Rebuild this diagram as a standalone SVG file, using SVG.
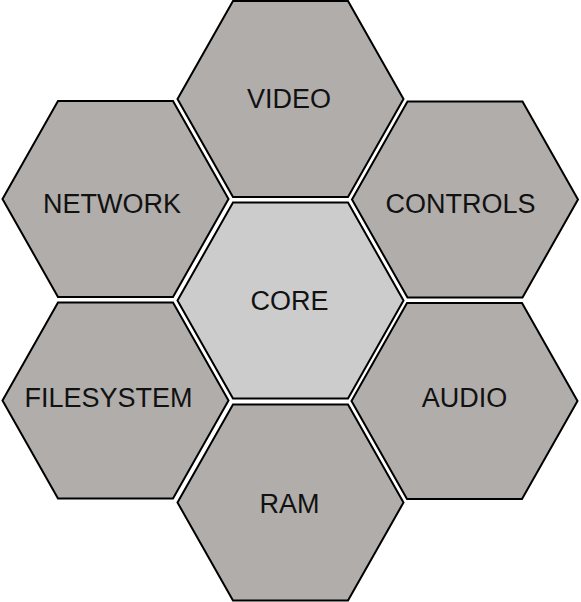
<svg xmlns="http://www.w3.org/2000/svg" xmlns:xlink="http://www.w3.org/1999/xlink" width="581" height="602" viewBox="0 0 581 602">
<style>
.hex{fill:#b0adab;stroke:#000;stroke-width:2;stroke-linejoin:miter}
.core{fill:#cccccc}
.lbl{font-family:"Liberation Sans",Arial,sans-serif;font-size:27px;fill:#111;text-anchor:middle}
</style>
<defs>
<polygon id="hx" points="-57.5,-98 57.5,-98 113,0 57.5,98 -57.5,98 -113,0"/>
</defs>
<rect width="581" height="602" fill="#fff"/>
<g id="connectors"/>
<g id="video"><use href="#hx" xlink:href="#hx" class="hex" transform="translate(290.5,99)"/><text class="lbl" x="289" y="108">VIDEO</text></g>
<g id="network"><use href="#hx" xlink:href="#hx" class="hex" transform="translate(115.5,199)"/><text class="lbl" x="112" y="213">NETWORK</text></g>
<g id="controls"><use href="#hx" xlink:href="#hx" class="hex" transform="translate(465,199.5)"/><text class="lbl" x="460.5" y="213">CONTROLS</text></g>
<g id="core"><use href="#hx" xlink:href="#hx" class="hex core" transform="translate(290.5,300.5)"/><text class="lbl" x="289.5" y="310">CORE</text></g>
<g id="filesystem"><use href="#hx" xlink:href="#hx" class="hex" transform="translate(115.5,400.5)"/><text class="lbl" x="108.5" y="407">FILESYSTEM</text></g>
<g id="audio"><use href="#hx" xlink:href="#hx" class="hex" transform="translate(464.5,401)"/><text class="lbl" x="464.5" y="407">AUDIO</text></g>
<g id="ram"><use href="#hx" xlink:href="#hx" class="hex" transform="translate(290.5,502.5)"/><text class="lbl" x="289.5" y="513">RAM</text></g>
</svg>
